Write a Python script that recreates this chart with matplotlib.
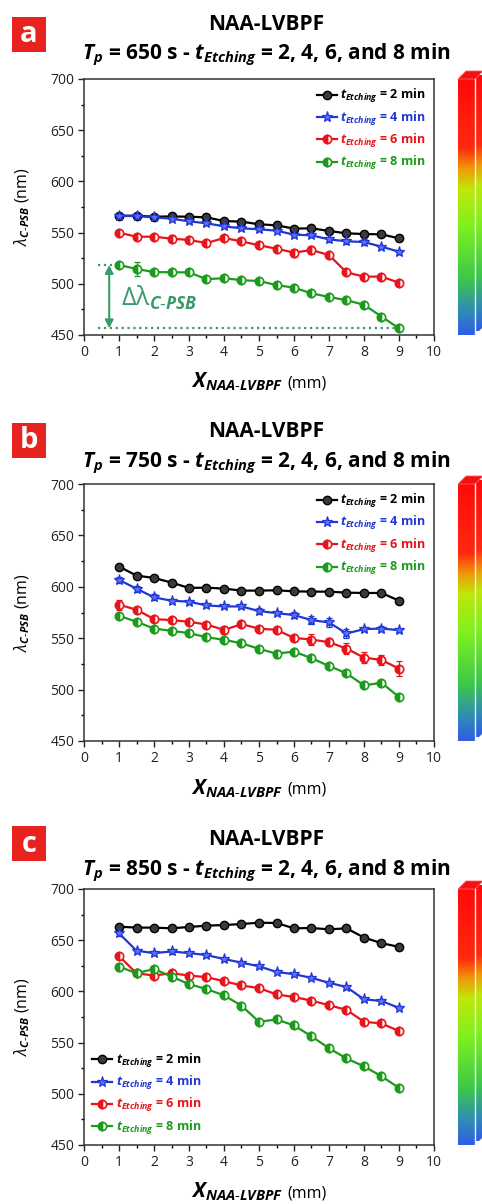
import numpy as np
import matplotlib
matplotlib.use('agg')
import matplotlib.pyplot as plt
from matplotlib.colors import LinearSegmentedColormap
from matplotlib.patches import Polygon, Rectangle
from matplotlib.offsetbox import TextArea, HPacker, AnchoredOffsetbox

plt.rcParams['font.family'] = ['Open Sans', 'DejaVu Sans']
plt.rcParams['mathtext.fontset'] = 'custom'
plt.rcParams['mathtext.rm'] = 'Open Sans'
plt.rcParams['mathtext.it'] = 'Open Sans:italic'
plt.rcParams['mathtext.bf'] = 'Open Sans:bold'
plt.rcParams['mathtext.bfit'] = 'Open Sans:italic:bold'

## Data
x_pos = [1, 1.5, 2, 2.5, 3, 3.5, 4, 4.5, 5, 5.5, 6, 6.5, 7, 7.5, 8, 8.5, 9]
etching = ['2', '4', '6', '8']
anodization = ['650', '750', '850']
panel_ids = ['a', 'b', 'c']

# T_p = 650 s
a_2min = [566.5, 566.5, 565.5, 565.8, 565.5, 564.9, 561.3, 560.7, 558.1, 557.1, 553.9, 554.2, 551.6, 549.3, 548.6, 548.3, 544.4]
a_4min = [566.2, 566.2, 564.9, 563.6, 561.0, 559.1, 556.1, 554.2, 553.2, 551.9, 548.0, 547.3, 543.4, 541.5, 540.8, 536.2, 531.4]
a_6min = [549.9, 546.0, 546.0, 544.1, 542.8, 539.8, 544.7, 541.5, 537.6, 534.3, 530.4, 533.0, 528.1, 511.2, 507.0, 507.0, 501.1]
a_8min = [518.4, 514.5, 511.5, 511.2, 511.2, 504.5, 505.5, 503.5, 502.7, 498.8, 496.2, 490.7, 487.1, 484.0, 479.5, 468.0, 456.5]
a_2min_err = [1.5, 1.5, 1.5, 1.5, 1.5, 1.5, 1.5, 1.5, 1.5, 1.5, 1.5, 1.5, 1.5, 1.5, 1.5, 1.5, 1.5]
a_4min_err = [1.5, 1.5, 1.5, 1.5, 1.5, 1.5, 1.5, 1.5, 1.5, 1.5, 2, 2, 2.5, 2.5, 2.5, 2, 2]
a_6min_err = [2, 2, 2, 3.5, 2, 3, 3, 2, 2, 3, 4, 4, 2, 2, 2, 2, 2]
a_8min_err = [2, 7, 2, 2, 2, 1.5, 1.5, 1.5, 1.5, 3, 3, 2, 2, 2, 2, 2, 2]

# T_p = 750 s
b_2min = [619.7, 610.9, 608.6, 604.1, 598.9, 599.2, 598.2, 596.3, 596.3, 596.6, 595.6, 595.3, 595.3, 594.3, 594.0, 594.0, 586.5]
b_4min = [606.7, 598.2, 589.7, 586.5, 585.5, 581.9, 580.9, 580.9, 576.4, 574.4, 572.5, 567.6, 565.3, 554.6, 558.8, 559.4, 557.8]
b_6min = [582.6, 577.7, 568.6, 567.6, 566.0, 563.3, 558.1, 563.6, 559.4, 558.1, 550.3, 548.7, 546.1, 539.9, 531.1, 528.8, 520.4]
b_8min = [571.8, 566.0, 559.4, 557.2, 554.9, 551.0, 548.4, 545.1, 539.6, 535.0, 537.0, 530.5, 523.0, 515.8, 504.1, 506.7, 492.7]
b_2min_err = [1, 1, 1, 1, 1, 1, 1, 1, 1, 1, 1, 1, 1, 1, 1, 1, 1]
b_4min_err = [3, 3, 3, 2, 2, 2, 1.5, 2, 3, 2, 3, 4, 4, 4, 2, 2, 1.5]
b_6min_err = [5, 3, 2, 2, 2, 2, 4, 2, 2, 2, 2, 5, 4, 5, 5, 5, 7]
b_8min_err = [3, 2, 2, 2, 2, 2, 2, 2, 2, 4, 2, 2, 2, 2, 2, 2, 2]

# T_p = 850 s
c_2min = [663.2, 662.3, 662.3, 661.6, 662.9, 664.2, 664.8, 665.8, 667.1, 666.8, 661.6, 661.9, 660.6, 661.6, 652.6, 647.1, 643.5]
c_4min = [656.8, 639.7, 637.4, 639.0, 637.4, 635.5, 631.6, 628.1, 624.5, 619.0, 616.8, 613.2, 608.4, 604.2, 592.3, 590.6, 583.9]
c_6min = [634.5, 617.7, 615.5, 617.7, 615.5, 613.9, 610.0, 605.8, 603.2, 597.1, 594.5, 591.0, 586.5, 582.0, 570.3, 568.7, 561.3]
c_8min = [624.2, 617.7, 621.9, 614.5, 607.1, 602.3, 596.1, 586.1, 570.3, 572.6, 566.8, 556.1, 544.5, 534.5, 526.8, 517.1, 505.8]
c_2min_err = [1.5, 1.5, 1.5, 1.5, 1.5, 1.5, 1.5, 1.5, 2, 1.5, 1.5, 1.5, 1.5, 1.5, 1.5, 1.5, 1.5]
c_4min_err = [3, 2, 2, 2, 1.5, 2, 1.5, 1.5, 1.5, 1.5, 1.5, 1.5, 1.5, 1.5, 1.5, 1.5, 1.5]
c_6min_err = [3, 1.5, 1.5, 1.5, 1.5, 1.5, 1.5, 1.5, 1.5, 1.5, 1.5, 1.5, 1.5, 1.5, 1.5, 1.5, 1.5]
c_8min_err = [4, 1.5, 2, 2, 1.5, 1.5, 1.5, 1.5, 1.5, 1.5, 1.5, 1.5, 1.5, 1.5, 1.5, 1.5, 1.5]

panels = [
    ([a_2min, a_4min, a_6min, a_8min], [a_2min_err, a_4min_err, a_6min_err, a_8min_err]),
    ([b_2min, b_4min, b_6min, b_8min], [b_2min_err, b_4min_err, b_6min_err, b_8min_err]),
    ([c_2min, c_4min, c_6min, c_8min], [c_2min_err, c_4min_err, c_6min_err, c_8min_err]),
]

## Styles
colors = ['#000000', '#2137d4', '#e8131b', '#1c9a1c']
delta_color = '#3a9a6c'
label_red = '#e8221f'

W, H = 482, 1204
fig = plt.figure(figsize=(W / 100, H / 100), dpi=100)


def px_axes(left, top, right, bottom):
    return fig.add_axes([left / W, 1 - bottom / H, (right - left) / W, (bottom - top) / H])


# colour bar gradient (bottom -> top)
spec_cmap = LinearSegmentedColormap.from_list('spec', [
    (0.00, '#2f5de8'), (0.10, '#2f8fb0'), (0.22, '#3cc84a'), (0.42, '#7ef01e'),
    (0.57, '#bfe80a'), (0.65, '#f09a08'), (0.73, '#ff2a10'), (1.00, '#ff0a0a')])


def draw_bar(top, bottom):
    h = bottom - top
    cax = px_axes(455, top - 10, W, bottom)
    cax.axis('off')
    grad = np.linspace(0, 1, 256).reshape(-1, 1)
    cax.imshow(grad, cmap=spec_cmap, origin='lower', aspect='auto',
               extent=(458, 475, 0, h), zorder=1)
    side = Polygon([(475, 0), (483, 8), (483, h + 8), (475, h)], closed=True,
                   facecolor='none', edgecolor='none')
    cax.add_patch(side)
    im = cax.imshow(grad, cmap=spec_cmap, origin='lower', aspect='auto',
                    extent=(475, 483, 4, h + 4), zorder=1)
    im.set_clip_path(side)
    cax.add_patch(Polygon([(458, h), (475, h), (483, h + 8), (466, h + 8)], closed=True,
                          facecolor='#f21010', edgecolor='#ff6060', lw=0.6, zorder=2))
    cax.plot([475, 475], [0, h], color='#f0f0f0', lw=1.0, zorder=3)
    cax.set_xlim(455, W)
    cax.set_ylim(0, h + 10)


# vertical placement of each panel (pixels from the top of the figure)
tops = [79, 484, 889]
bottoms = [335, 741, 1145]
title1_base = [30, 437, 845]
title2_base = [59, 467, 875]
tag_tops = [17, 423, 826]
legend_locs = ['upper right', 'upper right', 'lower left']

for p, (series, errs) in enumerate(panels):
    top, bottom = tops[p], bottoms[p]
    ax = px_axes(84, top, 434, bottom)

    for i in range(4):
        c = colors[i]
        ax.errorbar(x_pos, series[i], yerr=errs[i], fmt='none', ecolor=c,
                    elinewidth=0.9, capsize=2.2, capthick=0.9, zorder=2)
        label = r'$\mathbfit{t}_{\mathbfit{Etching}}$ = %s min' % etching[i]
        if i == 0:
            ax.plot(x_pos, series[i], color=c, lw=1.6, marker='o', ms=6,
                    mfc='#3a3a3a', mec='black', mew=1.0, label=label, zorder=3)
        elif i == 1:
            ax.plot(x_pos, series[i], color=c, lw=1.6, marker='*', ms=8,
                    mfc='#5a70ff', mec=c, mew=0.9, label=label, zorder=3)
        else:
            ax.plot(x_pos, series[i], color=c, lw=1.6, marker='o', ms=6,
                    fillstyle='left', mfc=c, mfcalt='white', mec=c, mew=1.2,
                    label=label, zorder=3)

    if p == 0:
        # spread of the 8 min series along the device
        lo, hi = a_8min[-1], a_8min[0]
        ax.plot([0.4, x_pos[0]], [hi, hi], ':', color=delta_color, lw=1.6, zorder=1)
        ax.plot([0.4, x_pos[-1]], [lo, lo], ':', color=delta_color, lw=1.6, zorder=1)
        ax.annotate('', xy=(0.72, lo), xytext=(0.72, hi),
                    arrowprops=dict(arrowstyle='<|-|>', color=delta_color, lw=1.5,
                                    mutation_scale=12, shrinkA=0, shrinkB=0))
        ax.text(1.05, (lo + hi) / 2 - 1,
                r'$\mathrm{\Delta}\mathrm{\lambda}_{\mathbfit{C\text{-}PSB}}$',
                color=delta_color, fontsize=18, va='center', ha='left')

    ax.set_xlim(0, 10)
    ax.set_ylim(450, 700)
    ax.set_xticks(range(0, 11))
    ax.set_xticks(np.arange(0.5, 10, 1), minor=True)
    ax.set_yticks(range(450, 701, 50))
    ax.set_yticks(range(475, 700, 50), minor=True)
    ax.tick_params(which='major', direction='out', length=4, width=1, labelsize=10,
                   colors='#222222', pad=3)
    ax.tick_params(which='minor', direction='out', length=2.5, width=1)
    for s in ax.spines.values():
        s.set_linewidth(1.1)
        s.set_color('#333333')

    ax.set_ylabel(r'$\lambda_{\mathbfit{C\text{-}PSB}}$ (nm)', fontsize=11.5, labelpad=13)

    # x axis label: large symbol plus smaller unit
    xl = HPacker(children=[
        TextArea(r'$\mathbfit{X}_{\mathbfit{NAA\text{-}LVBPF}}$', textprops=dict(fontsize=15)),
        TextArea('(mm)', textprops=dict(fontsize=11.5))], align='baseline', pad=0, sep=3)
    ab = AnchoredOffsetbox(loc='upper center', child=xl, frameon=False,
                           bbox_to_anchor=(0.5, -0.14), bbox_transform=ax.transAxes,
                           borderpad=0, pad=0)
    ax.add_artist(ab)

    leg = ax.legend(loc=legend_locs[p], frameon=False, handlelength=1.6,
                    handletextpad=0.3, labelspacing=0.35, borderaxespad=0.25,
                    prop={'weight': 'bold', 'size': 9})
    for txt, c in zip(leg.get_texts(), colors):
        txt.set_color(c)

    # titles
    fig.text(266 / W, 1 - title1_base[p] / H, 'NAA-LVBPF', ha='center', va='baseline',
             fontsize=15, fontweight='bold')
    fig.text(266 / W, 1 - title2_base[p] / H,
             r'$\mathbfit{T}_{\mathbfit{p}}$ = %s s - $\mathbfit{t}_{\mathbfit{Etching}}$ = 2, 4, 6, and 8 min'
             % anodization[p], ha='center', va='baseline', fontsize=15, fontweight='bold')

    # panel tag
    fig.patches.append(Rectangle((12 / W, 1 - (tag_tops[p] + 35) / H), 34 / W, 35 / H,
                                 transform=fig.transFigure, facecolor=label_red,
                                 edgecolor='none'))
    fig.text(29 / W, 1 - (tag_tops[p] + 18) / H, panel_ids[p], ha='center', va='center',
             color='white', fontsize=21, fontweight='bold')

    draw_bar(top, bottom)

fig.savefig('out.png', dpi=100, facecolor='white')
